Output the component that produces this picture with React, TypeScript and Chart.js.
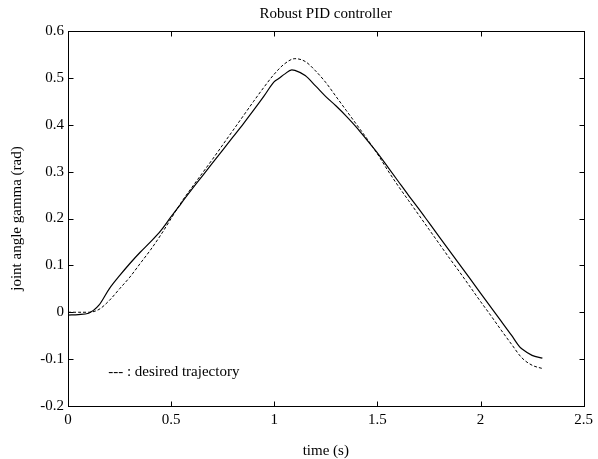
import { useEffect, useRef } from "react";
import { Chart, registerables } from "chart.js";

Chart.register(...registerables);

// ---- data ----
const tActual = [0, 0.05, 0.1, 0.15, 0.2, 0.25, 0.3, 0.35, 0.4, 0.45, 0.5, 0.55, 0.6, 0.65, 0.7, 0.75, 0.8, 0.85, 0.9, 0.95, 1.0, 1.02, 1.05, 1.085, 1.1, 1.15, 1.2, 1.25, 1.3, 1.35, 1.4, 1.45, 1.5, 1.55, 1.6, 1.65, 1.7, 1.75, 1.8, 1.85, 1.9, 1.95, 2.0, 2.05, 2.1, 2.15, 2.19, 2.2, 2.25, 2.3];
const actual = [-0.006, -0.005, -0.002, 0.015, 0.05, 0.078, 0.104, 0.128, 0.15, 0.174, 0.204, 0.233, 0.262, 0.29, 0.318, 0.346, 0.374, 0.402, 0.431, 0.461, 0.492, 0.498, 0.508, 0.517, 0.516, 0.505, 0.483, 0.46, 0.44, 0.418, 0.394, 0.367, 0.34, 0.31, 0.28, 0.25, 0.221, 0.191, 0.161, 0.131, 0.101, 0.071, 0.041, 0.011, -0.019, -0.049, -0.074, -0.078, -0.092, -0.098];

const tDesired = [0, 0.05, 0.1, 0.15, 0.2, 0.25, 0.3, 0.35, 0.4, 0.45, 0.5, 0.55, 0.6, 0.65, 0.7, 0.75, 0.8, 0.85, 0.9, 0.95, 1.0, 1.05, 1.1, 1.15, 1.2, 1.25, 1.3, 1.35, 1.4, 1.45, 1.5, 1.55, 1.6, 1.65, 1.7, 1.75, 1.8, 1.85, 1.9, 1.95, 2.0, 2.05, 2.1, 2.15, 2.2, 2.25, 2.3];
const desired = [0, 0, 0, 0.006, 0.025, 0.05, 0.075, 0.104, 0.133, 0.165, 0.2, 0.235, 0.266, 0.296, 0.326, 0.357, 0.388, 0.419, 0.45, 0.48, 0.508, 0.53, 0.541, 0.535, 0.515, 0.49, 0.46, 0.43, 0.4, 0.37, 0.338, 0.303, 0.27, 0.239, 0.208, 0.177, 0.146, 0.115, 0.085, 0.054, 0.023, -0.007, -0.038, -0.068, -0.097, -0.113, -0.12];

const xTicks = [0, 0.5, 1, 1.5, 2, 2.5];
const xTickLabels = ["0", "0.5", "1", "1.5", "2", "2.5"];
const yTicks = [-0.2, -0.1, 0, 0.1, 0.2, 0.3, 0.4, 0.5, 0.6];
const yTickLabels = ["-0.2", "-0.1", "0", "0.1", "0.2", "0.3", "0.4", "0.5", "0.6"];

const titleText = "Robust PID controller";
const xAxisTitle = "time (s)";
const yAxisTitle = "joint angle gamma (rad)";
const noteText = "--- : desired trajectory";
const notePos = { x: 0.195, y: -0.127 };

const FONT = "'Liberation Serif', 'Times New Roman', serif";

const framePlugin = {
  id: "matlabFrame",
  afterDraw(chart: any) {
    const { ctx, chartArea } = chart;
    const xs = chart.scales.x;
    const ys = chart.scales.y;
    const L = Math.round(chartArea.left) + 0.5;
    const R = Math.round(chartArea.right) + 0.5;
    const T = Math.round(chartArea.top) + 0.5;
    const B = Math.round(chartArea.bottom) + 0.5;
    ctx.save();
    ctx.strokeStyle = "#000";
    ctx.lineWidth = 1;
    ctx.setLineDash([]);
    ctx.strokeRect(L, T, R - L, B - T);
    const tl = 5;
    ctx.beginPath();
    xTicks.forEach((v) => {
      const px = Math.round(xs.getPixelForValue(v)) + 0.5;
      ctx.moveTo(px, B);
      ctx.lineTo(px, B - tl);
      ctx.moveTo(px, T);
      ctx.lineTo(px, T + tl);
    });
    yTicks.forEach((v) => {
      const py = Math.round(ys.getPixelForValue(v)) + 0.5;
      ctx.moveTo(L, py);
      ctx.lineTo(L + tl, py);
      ctx.moveTo(R, py);
      ctx.lineTo(R - tl, py);
    });
    ctx.stroke();

    ctx.fillStyle = "#000";
    ctx.font = `15px ${FONT}`;
    ctx.textAlign = "center";
    ctx.textBaseline = "middle";
    const cx = (chartArea.left + chartArea.right) / 2;
    ctx.fillText(titleText, cx, 14);
    ctx.fillText(xAxisTitle, cx, 451);
    ctx.save();
    ctx.translate(17, (chartArea.top + chartArea.bottom) / 2);
    ctx.rotate(-Math.PI / 2);
    ctx.fillText(yAxisTitle, 0, 0);
    ctx.restore();

    ctx.textAlign = "left";
    ctx.fillText(noteText, xs.getPixelForValue(notePos.x), ys.getPixelForValue(notePos.y));
    ctx.restore();
  },
};

export default function App() {
  const ref = useRef<HTMLCanvasElement>(null);
  useEffect(() => {
    document.body.style.margin = "0";
    const canvas = ref.current!;
    const chart = new Chart(canvas, {
      type: "scatter",
      data: {
        datasets: [
          {
            label: "desired",
            data: tDesired.map((t, i) => ({ x: t, y: desired[i] })),
            showLine: true,
            borderColor: "#000",
            borderWidth: 1,
            borderDash: [3, 2],
            pointRadius: 0,
            cubicInterpolationMode: "monotone",
          },
          {
            label: "actual",
            data: tActual.map((t, i) => ({ x: t, y: actual[i] })),
            showLine: true,
            borderColor: "#000",
            borderWidth: 1.2,
            pointRadius: 0,
            cubicInterpolationMode: "monotone",
          },
        ],
      },
      plugins: [framePlugin],
      options: {
        responsive: false,
        animation: false,
        devicePixelRatio: 1,
        layout: { padding: { left: 0, top: 31, right: 11, bottom: 0 } },
        plugins: { legend: { display: false }, tooltip: { enabled: false }, title: { display: false } },
        scales: {
          x: {
            type: "linear",
            min: 0,
            max: 2.5,
            grid: { display: false, drawTicks: false },
            border: { display: false },
            afterFit: (s: any) => {
              s.height = 53;
            },
            afterBuildTicks: (s: any) => {
              s.ticks = xTicks.map((v) => ({ value: v }));
            },
            ticks: {
              padding: 5,
              color: "#000",
              font: { family: FONT, size: 15 },
              maxRotation: 0,
              callback: (v: any) => {
                const i = xTicks.findIndex((t) => Math.abs(t - v) < 1e-9);
                return i >= 0 ? xTickLabels[i] : "";
              },
            },
          },
          y: {
            type: "linear",
            min: -0.2,
            max: 0.6,
            grid: { display: false, drawTicks: false },
            border: { display: false },
            afterFit: (s: any) => {
              s.width = 68;
            },
            afterBuildTicks: (s: any) => {
              s.ticks = yTicks.map((v) => ({ value: v }));
            },
            ticks: {
              padding: 4,
              color: "#000",
              font: { family: FONT, size: 15 },
              callback: (v: any) => {
                const i = yTicks.findIndex((t) => Math.abs(t - v) < 1e-9);
                return i >= 0 ? yTickLabels[i] : "";
              },
            },
          },
        },
      },
    });
    return () => chart.destroy();
  }, []);
  return <canvas ref={ref} width={598} height={459} style={{ display: "block", width: 598, height: 459 }} />;
}
